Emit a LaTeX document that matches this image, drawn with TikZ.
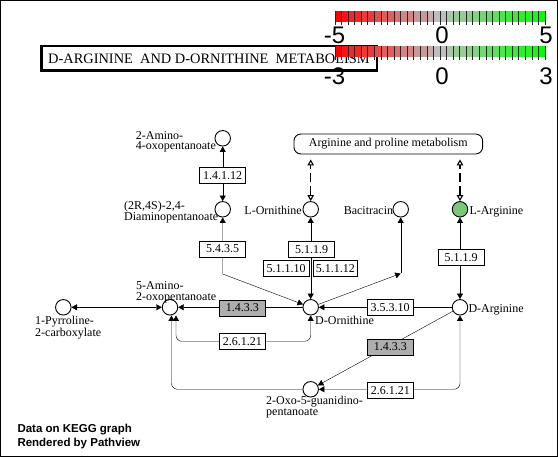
\documentclass[tikz,border=0pt]{standalone}
\usepackage{fontspec}
\setmainfont{Liberation Serif}
\setsansfont{Liberation Sans}
\usetikzlibrary{
  arrows.meta,
  backgrounds
}
\definecolor{keylow}{RGB}{255,0,0}
\definecolor{keymid}{RGB}{190,190,190}
\definecolor{keyhigh}{RGB}{0,255,0}
\definecolor{cpdhit}{RGB}{122,199,122}
\definecolor{enzhit}{RGB}{174,174,174}
\tikzset{
  ktri/.tip={Triangle[length=5.5pt,width=6pt]},
  kopen/.tip={Triangle[open,length=6pt,width=6.5pt]}
}
\newcommand{\drawKey}[4]{%
  \begin{scope}[shift={(0,#1)}]
    % -- colour steps --
    \foreach \i in {0,...,31} {
      \pgfmathsetmacro{\xl}{335 + \i*6.5625}
      \pgfmathtruncatemacro{\lev}{round(abs((\i+0.5)/32-0.5)*20)*10}
      \ifnum \i<16
        \fill[keylow!\lev!keymid] (\xl,0) rectangle ++(6.5625,10.7);
      \else
        \fill[keyhigh!\lev!keymid] (\xl,0) rectangle ++(6.5625,10.7);
      \fi
    }
    % -- ticks --
    \foreach \i in {0,...,32}
      \draw[black!85, line width=0.7pt] (335+\i*6.5625,0) -- ++(0,14.5);
    % -- numbers --
    \node[keynum, anchor=base] at (334.5,#2) {#3};
    \node[keynum, anchor=base] at (442,#2) {0};
    \node[keynum, anchor=base] at (546,#2) {#4};
  \end{scope}
}

\begin{document}
\begin{tikzpicture}[x=1pt, y=-1pt,
  cpd/.style={circle, draw, fill=white, line width=0.9pt, minimum size=15.5pt, inner sep=0pt},
  enz/.style={draw, fill=white, line width=0.9pt, minimum width=46pt, minimum height=16pt,
    inner sep=0pt, font=\fontsize{12}{12}\selectfont},
  cpdlbl/.style={inner sep=0pt, align=left, font=\fontsize{12}{10.7}\selectfont},
  keynum/.style={inner sep=0pt, font=\sffamily\fontsize{24}{24}\selectfont},
  maplink/.style={kopen-kopen, line width=1.1pt, dash pattern=on 9pt off 4pt, shorten >=5pt},
  conn/.style={line width=1.1pt}]

  \useasboundingbox (0,0) rectangle (558,457);
  \draw[line width=1pt] (0.5,0.5) rectangle (557.5,456.5);

  % Title
  \node[draw, line width=2.5pt, minimum width=335.5pt, minimum height=24.5pt, inner sep=0pt,
        font=\fontsize{14.4}{14}\selectfont] (title) at (209,58.5)
    {D-ARGININE\ \ AND D-ORNITHINE\ \ METABOLISM};

  % Colour keys
  \drawKey{11}{33}{-5}{5}
  \drawKey{46}{38.5}{-3}{3}

  % Map link
  \node[draw, line width=0.9pt, rounded corners=7pt, minimum width=188.7pt, minimum height=20pt,
        inner sep=0pt, font=\fontsize{12}{12}\selectfont] (apmap) at (388.3,144)
    {Arginine and proline metabolism};

  % Compounds
  \node[cpd] (amino)   at (222.7,138.3) {};
  \node[cpd] (diamino) at (222.7,209.3) {};
  \node[cpd] (lorn)    at (310.7,209.3) {};
  \node[cpd] (bacit)   at (400.7,209.3) {};
  \node[cpd, fill=cpdhit] (larg) at (460,209.3) {};
  \node[cpd] (dorn)    at (310.7,307.3) {};
  \node[cpd] (darg)    at (460,307.3) {};
  \node[cpd] (aminoox) at (170,307.3) {};
  \node[cpd] (pyrrol)  at (63.3,307.3) {};
  \node[cpd] (oxog)    at (310.7,389.3) {};

  % Compound labels (base = last line)
  \node[cpdlbl, anchor=base west] (aminolbl) at (135.7,150) {2-Amino-\\4-oxopentanoate};
  \node[cpdlbl, anchor=base west] (diaminolbl) at (124,220.7) {(2R,4S)-2,4-\\Diaminopentanoate};
  \node[cpdlbl, anchor=base east] (lornlbl) at (302,214.7) {L-Ornithine};
  \node[cpdlbl, anchor=base east] (bacitlbl) at (393.3,214.7) {Bacitracin};
  \node[cpdlbl, anchor=base west] (larglbl) at (469.3,214.7) {L-Arginine};
  \node[cpdlbl, anchor=base west] (dornlbl) at (315,325) {D-Ornithine};
  \node[cpdlbl, anchor=base west] (darglbl) at (468.3,312.7) {D-Arginine};
  \node[cpdlbl, anchor=base west] (aminooxlbl) at (136,300.5) {5-Amino-\\2-oxopentanoate};
  \node[cpdlbl, anchor=base west] (pyrrollbl) at (35,336.5) {1-Pyrroline-\\2-carboxylate};
  \node[cpdlbl, anchor=base west] (oxoglbl) at (266,415.7) {2-Oxo-5-guanidino-\\pentanoate};

  % Enzymes
  \node[enz] (e14112)  at (222.7,175.5) {1.4.1.12};
  \node[enz] (e5435)   at (222.7,249)   {5.4.3.5};
  \node[enz] (e5119a)  at (311.7,249.7) {5.1.1.9};
  \node[enz] (e51110)  at (286,268.2)   {5.1.1.10};
  \node[enz, minimum width=44pt] (e51112) at (335.3,268.2) {5.1.1.12};
  \node[enz] (e5119b)  at (461,257.8)   {5.1.1.9};
  \node[enz, fill=enzhit] (e1433a) at (242.3,308) {1.4.3.3};
  \node[enz] (e26121a) at (242.3,341.3) {2.6.1.21};
  \node[enz] (e35310)  at (390,307.7)   {3.5.3.10};
  \node[enz, fill=enzhit] (e1433b) at (390.3,347) {1.4.3.3};
  \node[enz] (e26121b) at (390.3,390.5) {2.6.1.21};

  \coordinate (c5435) at (222.7,274);
  \coordinate (cbac)  at (400.7,273.5);

  % Reactions
  \begin{scope}[on background layer, conn]
    \draw[ktri-ktri] (amino) -- (diamino);
    \draw[ktri-ktri] (diamino) -- (c5435) -- (dorn);
    \draw[ktri-ktri] (lorn) -- (dorn);
    \draw[-ktri] (dorn) -- (cbac);
    \draw[-ktri] (cbac) -- (bacit);
    \draw[ktri-ktri] (larg) -- (darg);
    \draw[ktri-ktri] (aminoox) -- (pyrrol);
    \draw[-ktri] (dorn) -- (aminoox);
    \draw[-ktri] (darg) -- (dorn);
    \draw[-ktri] (darg) -- (oxog);
    \draw[ktri-ktri, rounded corners=6pt] ([xshift=6pt]aminoox.south) |- (dorn |- e26121a) -- (dorn);
    \draw[-ktri, rounded corners=6pt] (oxog) -| ([xshift=1.5pt]aminoox.south);
    \draw[ktri-ktri, rounded corners=6pt] (darg) |- (oxog);
    % links to the map
    \draw[maplink] (lorn) -- (apmap.south -| lorn);
    \draw[maplink] (larg) -- (apmap.south -| larg);
  \end{scope}

  % Footer
  \node[inner sep=0pt, anchor=base west, font=\sffamily\bfseries\fontsize{11.5}{14}\selectfont]
    (footA) at (17.3,432.3) {Data on KEGG graph};
  \node[inner sep=0pt, anchor=base west, font=\sffamily\bfseries\fontsize{11.5}{14}\selectfont]
    (footB) at (17.3,446.7) {Rendered by Pathview};

\end{tikzpicture}
\end{document}
